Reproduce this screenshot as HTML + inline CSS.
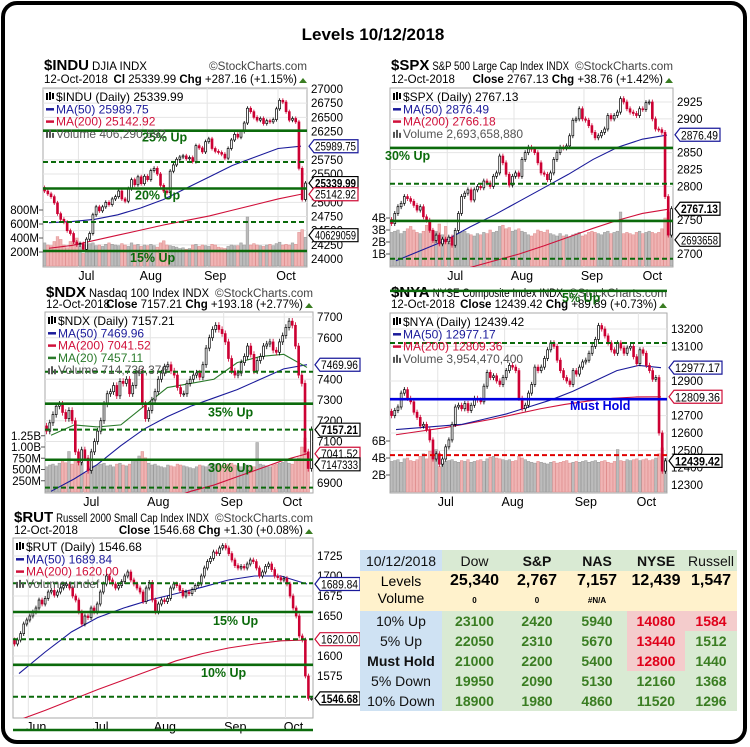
<!DOCTYPE html>
<html><head><meta charset="utf-8">
<style>
html,body{margin:0;padding:0;background:#fff;}
#wrap{position:relative;width:750px;height:747px;overflow:hidden;font-family:"Liberation Sans",sans-serif;}
svg text{font-family:"Liberation Sans",sans-serif;}
#tbl{position:absolute;left:360px;top:550px;border-collapse:collapse;font-family:"Liberation Sans",sans-serif;font-weight:bold;}
#tbl td{padding:0;text-align:center;font-size:14px;height:20px;line-height:20px;}
.lab{background:#cfe2f3;color:#111;font-weight:normal;}
.gr{background:#d9ead3;color:#3a7d22;}
.yl{background:#fff2cc;color:#000;}
.pk{background:#f4cccc;color:#e0001a;}
</style></head>
<body>
<div id="wrap">
<svg id="svg" width="750" height="747" viewBox="0 0 750 747">
<rect x="3" y="3" width="742" height="739" rx="14" fill="#fff" stroke="#000" stroke-width="4"/>
<text x="373" y="40" text-anchor="middle" font-size="17" font-weight="bold">Levels 10/12/2018</text>
</svg>
<table id="tbl">
<tr style="height:21px"><td class="lab" style="width:82px;font-weight:normal">10/12/2018</td><td class="gr" style="width:65px;color:#111;font-weight:normal">Dow</td><td class="gr" style="width:60px;color:#111;font-weight:bold">S&amp;P</td><td class="gr" style="width:60px;color:#111">NAS</td><td class="gr" style="width:58px;color:#111">NYSE</td><td class="gr" style="width:52px;color:#111;font-weight:normal">Russell</td></tr>
<tr><td class="yl" style="font-weight:normal">Levels</td><td class="yl" style="font-size:16px">25,340</td><td class="yl" style="font-size:16px">2,767</td><td class="yl" style="font-size:16px">7,157</td><td class="yl" style="font-size:16px">12,439</td><td class="yl" style="font-size:16px">1,547</td></tr>
<tr style="height:19px"><td class="yl" style="font-weight:normal;line-height:14px;vertical-align:top">Volume</td><td class="yl" style="font-size:8px">0</td><td class="yl" style="font-size:8px">0</td><td class="yl" style="font-size:8px">#N/A</td><td class="yl"></td><td class="yl"></td></tr>
<tr><td class="lab">10% Up</td><td class="gr">23100</td><td class="gr">2420</td><td class="gr">5940</td><td class="pk">14080</td><td class="pk">1584</td></tr>
<tr><td class="lab">5% Up</td><td class="gr">22050</td><td class="gr">2310</td><td class="gr">5670</td><td class="pk">13440</td><td class="gr">1512</td></tr>
<tr><td class="lab" style="font-weight:bold">Must Hold</td><td class="gr">21000</td><td class="gr">2200</td><td class="gr">5400</td><td class="pk">12800</td><td class="gr">1440</td></tr>
<tr><td class="lab">5% Down</td><td class="gr">19950</td><td class="gr">2090</td><td class="gr">5130</td><td class="gr">12160</td><td class="gr">1368</td></tr>
<tr><td class="lab">10% Down</td><td class="gr">18900</td><td class="gr">1980</td><td class="gr">4860</td><td class="gr">11520</td><td class="gr">1296</td></tr>
</table>
</div>
<script>
// ===== DATA =====
const INDU_close=[25200,25150,25100,24990,24800,24700,24650,24500,24450,24300,24250,
24270,24170,24350,24450,24780,24920,24850,24920,25000,24960,25060,25100,25200,25060,25020,25240,25400,25310,25450,
25330,25460,25400,25560,25600,25500,25300,25200,25170,25550,25660,25760,25800,25820,25770,25790,25720,26000,25960,25890,
26070,26120,25950,25900,25880,25850,25780,25950,26100,26200,26150,26250,26400,26660,26600,26500,26450,26480,26390,26440,26420,26460,
26650,26800,26770,26600,26450,26480,26420,25600,25050,25340];
const INDU_vol=[330,300,290,350,420,380,300,260,350,330,400,
280,180,300,320,330,290,300,280,310,330,310,300,290,320,300,280,330,300,310,
280,300,290,310,290,270,330,360,300,290,280,270,250,260,240,250,300,310,280,300,
290,280,310,300,270,260,250,280,300,290,290,330,300,700,300,320,300,290,280,300,310,290,
320,340,300,310,300,330,310,480,520,410];
const INDU_ma50=[24640,24660,24700,24780,24900,25050,25250,25450,25650,25800,25950,25990];
const INDU_ma200=[24190,24240,24330,24420,24510,24600,24680,24760,24860,24960,25060,25143];
const INDU_ticks=[27000,26750,26500,26250,25750,25500,25000,24750,24500,24250,24000];
const INDU_levels=[26264,25712,25244,24653,24141];
const INDU_vticks=[800,600,400,200];
const INDU_vtickLabels=['800M','600M','400M','200M'];
const INDU_months=['Jul','Aug','Sep','Oct'];
const INDU_monthIdx=[11,31,51,73];

const SPX_close=[2745,2760,2770,2775,2785,2782,2778,2772,2765,2770,2755,2750,2735,2720,2728,2715,2722,2718,
2725,2713,2735,2760,2785,2790,2795,2780,2795,2800,2798,2808,2805,2800,2815,2820,2845,2835,2818,2802,2815,
2820,2815,2840,2850,2858,2855,2850,2835,2820,2818,2810,2820,2840,2850,2858,2857,2860,2875,2898,2900,2915,2900,
2898,2890,2880,2872,2875,2880,2885,2905,2900,2905,2910,2930,2925,2915,2910,2908,2905,2915,2914,
2924,2925,2900,2885,2884,2880,2785,2728,2767];
const SPX_vol=[2.8,2.9,3.0,2.7,2.9,3.1,3.3,3.0,2.8,2.7,2.9,3.4,3.8,3.0,2.9,3.5,2.6,3.3,
1.9,2.4,2.6,2.7,2.8,2.9,2.7,2.6,2.5,2.7,2.6,2.8,2.7,3.0,2.8,2.9,3.3,3.4,3.1,3.2,2.9,
3.0,3.1,2.9,2.8,2.6,2.5,2.7,3.0,2.9,2.8,3.0,2.7,2.6,2.5,2.7,2.5,2.6,2.4,2.6,2.7,2.8,2.5,
2.6,2.8,2.9,2.8,2.7,2.6,2.8,2.9,2.7,2.8,2.9,4.5,2.7,2.8,2.7,2.6,2.8,2.9,2.7,
2.8,2.9,2.8,2.7,2.8,3.1,4.0,4.5,2.7];
const SPX_ma50=[2690,2705,2720,2740,2758,2778,2798,2818,2840,2858,2870,2876];
const SPX_ma200=[2655,2662,2670,2680,2690,2700,2712,2725,2738,2750,2760,2766];
const SPX_ticks=[2925,2900,2850,2825,2800,2750,2700];
const SPX_levels=[2857,2804,2749,2693];
const SPX_vticks=[4,3,2,1];
const SPX_vtickLabels=['4B','3B','2B','1B'];
const SPX_months=['Jul','Aug','Sep','Oct'];
const SPX_monthIdx=[18,39,61,80];

const NDX_close=[7150,7190,7230,7270,7280,7240,7210,7250,7200,7050,7000,7060,
7020,6960,7050,7100,7150,7200,7280,7330,7340,7370,7320,7390,7380,7400,7330,7370,7430,7440,7280,7210,7250,
7300,7340,7400,7430,7460,7470,7440,7420,7360,7330,7330,7380,7400,7420,7430,7410,7470,7550,7600,7640,7660,7640,7620,
7580,7500,7440,7420,7430,7480,7510,7560,7520,7440,7490,7510,7560,7570,7580,7540,7530,7580,7610,
7650,7680,7660,7560,7420,7380,7050,6970,7157];
const NDX_vol=[560,600,620,580,640,700,650,900,620,700,660,640,
420,500,560,580,600,620,640,580,600,560,620,640,600,580,620,700,680,800,900,760,640,
600,620,580,560,540,600,580,560,620,600,580,560,540,520,560,600,580,560,600,640,620,600,
580,600,620,640,600,580,560,620,600,580,560,1100,620,600,580,560,600,620,640,
660,680,640,620,700,760,1000,1200,715];
const NDX_ma50=[6860,6920,6990,7080,7160,7220,7270,7310,7350,7400,7450,7470];
const NDX_ma20=[7130,7180,7170,7180,7270,7360,7380,7400,7480,7510,7520,7457];
const NDX_ma200=[6600,6650,6700,6740,6780,6820,6860,6890,6930,6970,7010,7041];
const NDX_ticks=[7700,7600,7400,7300,7200,7100,6900];
const NDX_levels=[7436,7282,7157,7012,6878];
const NDX_vticks=[1250,1000,750,500,250];
const NDX_vtickLabels=['1.25B','1.00B','750M','500M','250M'];
const NDX_months=['Jul','Aug','Sep','Oct'];
const NDX_monthIdx=[12,33,56,75];

const NYA_close=[12700,12730,12750,12830,12850,12800,12780,12720,12690,12640,12650,12620,12560,12450,12480,
12420,12450,12520,12560,12650,12750,12760,12740,12770,12730,12760,12800,12790,12780,12870,12950,12920,12930,12900,12880,12920,
12960,12990,12980,12960,12800,12740,12760,12830,12880,12980,12960,12980,13030,13080,13120,13100,13020,12960,12920,12900,12880,12960,12940,
12980,13010,13020,13060,13100,13140,13220,13200,13160,13120,13080,13060,13120,13090,13060,13090,13100,13040,13000,
13080,13060,12990,12960,12910,12920,12600,12380,12439];
const NYA_vol=[3.6,3.7,3.8,3.5,3.9,4.0,3.7,3.6,3.8,4.2,4.5,3.9,4.8,4.2,5.0,
3.0,3.4,3.6,3.7,3.8,3.6,3.5,3.7,3.6,3.8,3.5,3.6,3.7,3.8,3.6,3.9,4.1,4.2,4.0,3.9,3.8,
3.7,3.8,3.6,3.7,4.2,4.0,3.8,3.6,3.5,3.4,3.6,3.5,3.4,3.3,3.5,3.6,3.4,3.5,3.6,3.7,3.4,3.5,3.6,
3.5,3.6,3.7,3.5,3.6,3.7,3.5,3.6,3.7,3.5,3.4,3.6,5.0,3.7,3.6,3.8,3.7,3.8,3.9,
3.7,3.8,3.9,3.7,3.8,4.0,4.5,5.2,3.95];
const NYA_ma50=[12620,12630,12640,12650,12680,12710,12750,12790,12840,12900,12960,12990,12977];
const NYA_ma200=[12590,12610,12630,12655,12680,12710,12740,12765,12785,12800,12808,12809];
const NYA_ticks=[13200,13100,12900,12700,12600,12500,12400,12300];
const NYA_levels=[13119,12795,12472];
const NYA_topLevel=[13420];
const NYA_vticks=[6,4,2];
const NYA_vtickLabels=['6B','4B','2B'];
const NYA_months=['Jul','Aug','Sep','Oct'];
const NYA_monthIdx=[15,36,59,78];

const RUT_close=[1615,1620,1628,1640,1645,
1650,1655,1660,1670,1665,1672,1680,1682,1676,1680,1685,1688,1690,1685,1675,1670,1655,1640,1650,1648,1660,
1655,1665,1680,1690,1700,1695,1690,1685,1688,1693,1700,1705,1695,1690,1685,1680,1668,1685,1692,1670,1655,
1665,1670,1668,1672,1685,1690,1688,1682,1675,1680,1678,1683,1688,1690,1700,1710,1718,1722,1730,1728,1735,1738,1735,
1728,1720,1713,1710,1712,1710,1715,1720,1718,1710,1700,1705,1712,1715,1708,1700,1698,1695,1697,
1690,1675,1660,1650,1625,1620,1575,1547,1547];
const RUT_ma50=[1578,1605,1630,1648,1660,1670,1678,1686,1695,1700,1700,1690];
const RUT_ma200=[1520,1532,1545,1558,1570,1582,1594,1603,1610,1615,1619,1620];
const RUT_ticks=[1725,1700,1675,1650,1600,1575];
const RUT_levels=[1691,1655,1621,1589,1549];
const RUT_months=['Jun','Jul','Aug','Sep','Oct'];
const RUT_monthIdx=[5,26,47,70,89];

// ===== DRAW =====
const NS='http://www.w3.org/2000/svg';
const svg=document.getElementById('svg');
function mk(tag,attrs,parent){const e=document.createElementNS(NS,tag);for(const k in attrs)e.setAttribute(k,attrs[k]);(parent||svg).appendChild(e);return e;}
function txt(s,x,y,size,attrs,parent){const t=mk('text',Object.assign({x:x,y:y,'font-size':size},attrs||{}),parent);t.textContent=s;return t;}

function drawPanel(p){
  const g=mk('g',{});
  
  
  const N=p.close.length;
  const step=(p.x1-p.x0)/N;
  const X=i=>p.x0+(i+0.5)*step;
  const Y=v=>p.yA+(v-p.vA)*(p.yB-p.yA)/(p.vB-p.vA);
  const clipId='clip-'+p.id;
  const cp=mk('clipPath',{id:clipId},g);
  mk('rect',{x:p.x0,y:p.y0,width:p.x1-p.x0,height:p.y1-p.y0},cp);
  // header
  const h1=txt(p.sym,p.x0+1,p.hy1,15,{'font-weight':'bold'},g);
  
  
  const symW=h1.getComputedTextLength();
  const nm=txt(p.title,p.x0+4+symW,p.hy1,11.5,{},g);
  
  
  const avail=p.x1-104-(p.x0+4+symW);
  if(nm.getComputedTextLength()>avail){nm.setAttribute('textLength',avail);nm.setAttribute('lengthAdjust','spacingAndGlyphs');}
  const sc=txt('©StockCharts.com',p.x1,p.hy1,11.5,{'text-anchor':'end',fill:'#444',textLength:98,lengthAdjust:'spacingAndGlyphs'},g);
  
  
  const dt=txt('12-Oct-2018',p.x0+1,p.hy2,11.5,{},g);
  
  
  const cl=mk('text',{x:p.x1-10,y:p.hy2,'font-size':11.5,'text-anchor':'end'},g);
  cl.innerHTML='<tspan font-weight="bold">'+p.clLabel+'</tspan> '+p.closeTxt+'  <tspan font-weight="bold">Chg</tspan> '+p.chgTxt;
  
  
  mk('path',{d:`M${p.x1-8} ${p.hy2} l4 -5 l4 5z`,fill:'#3a7d22'},g);
  // plot bg
  mk('rect',{x:p.x0,y:p.y0,width:p.x1-p.x0,height:p.y1-p.y0,fill:'#fff',stroke:'#aaa'},g);
  // grid
  p.ticks.forEach(v=>{const y=Y(v);if(y>p.y0&&y<p.y1)mk('line',{x1:p.x0,x2:p.x1,y1:y,y2:y,stroke:'#e4e4e4'},g);});
  p.monthIdx.forEach((mi,k)=>{const x=p.x0+mi*step;mk('line',{x1:x,x2:x,y1:p.y0,y2:p.y1,stroke:'#e4e4e4'},g);
    const ml=txt(p.months[k],x+8,p.y1+13,12.5,{'text-anchor':'middle'},g);
    
    });
  // price tick labels
  p.ticks.forEach(v=>{const tl=txt(String(v),p.x1+4,Y(v)+4,11.5,{},g);
    
    });
  const inner=mk('g',{'clip-path':`url(#${clipId})`},g);
  // volume
  if(p.vol){
    p.vticks.forEach((v,k)=>{const y=p.vBase-v*p.vScale;
      mk('line',{x1:p.x0-4,x2:p.x0,y1:y,y2:y,stroke:'#555'},g);
      const vl=txt(p.vtickLabels[k],p.x0-4,y+4,11.5,{'text-anchor':'end'},g);
      
      });
    for(let i=0;i<Math.min(N,p.vol.length);i++){
      const up=i===0||p.close[i]>=p.close[i-1];
      const hh=p.vol[i]*p.vScale;
      const b=mk('rect',{x:X(i)-step*0.42,y:p.vBase-hh,width:step*0.84,height:hh,fill:up?'#bcbcbc':'#f0b4b4',stroke:up?'#999':'#e08e8e','stroke-width':0.5},inner);
      
      
    }
  }
  // MAs
  p.mas.forEach(m=>{
    const M=m.data.length;
    const pts=m.data.map((v,j)=>`${p.x0+6+j*(p.x1-p.x0-12)/(M-1)},${Y(v)}`).join(' ');
    const l=mk('polyline',{points:pts,fill:'none',stroke:m.color,'stroke-width':1.1},inner);
    
    
  });
  // candles
  for(let i=0;i<N;i++){
    const c=p.close[i],o=i===0?c+p.wick:p.close[i-1];
    const up=c>=o;
    const x=X(i);
    const hi=Math.max(o,c)+p.wick*0.6,lo=Math.min(o,c)-p.wick*0.6;
    const w=mk('line',{x1:x,x2:x,y1:Y(hi),y2:Y(lo),stroke:up?'#000':'#cc0033','stroke-width':0.8},inner);
    
    
    const top=Y(Math.max(o,c)),bot=Y(Math.min(o,c));
    const r=mk('rect',{x:x-step*0.3,y:top,width:step*0.6,height:Math.max(1,bot-top),fill:up?'#fff':'#cc0033',stroke:up?'#000':'#cc0033','stroke-width':0.7},inner);
    
    
  }
  // levels
  p.levels.forEach((v,k)=>{
    const y=Y(v);const st=p.levelStyles[k];
    const a={x1:p.x0,x2:p.x1,y1:y,y2:y,stroke:st.c||'#0b6a0b','stroke-width':st.d?2:2.6};
    if(st.d)a['stroke-dasharray']='5,3';
    const l=mk('line',a,g);
    
    
    if(st.t){const lt=txt(st.t,st.tx,y+st.ty,12.5,{'font-weight':'bold',fill:st.c||'#0b6a0b'},g);
      
      }
  });
  // legend
  const lg=mk('g',{},g);
  
  
  p.legend.forEach((L,k)=>{
    const y=p.y0+9+k*12.3;
    if(k===0){mk('path',{d:`M${p.x0+4} ${y-4}v7M${p.x0+7} ${y-5}v8M${p.x0+10} ${y-4}v6`,stroke:'#000','stroke-width':2},lg);}
    else if(L.c!=='#555'){mk('line',{x1:p.x0+3,x2:p.x0+11,y1:y,y2:y,stroke:L.c,'stroke-width':2.5},lg);}
    else{mk('path',{d:`M${p.x0+4} ${y+4}v-6M${p.x0+7} ${y+4}v-8M${p.x0+10} ${y+4}v-5`,stroke:'#555','stroke-width':2},lg);}
    txt(L.t,p.x0+13,y+4,12,{fill:L.c},lg);
  });
  // tags
  p.tags.forEach(t=>{
    const y=Y(t.v);const x=p.x1+2;const w=t.w||44;
    const tg=mk('g',{},g);
    
    
    mk('path',{d:`M${x} ${y} l5 -6.5 h${w} v13 h-${w} z`,fill:'#fff',stroke:t.c,'stroke-width':1.2},tg);
    txt(t.s,x+6,y+4.5,11.5,{'font-weight':t.b?'bold':'normal',textLength:w-3,lengthAdjust:'spacingAndGlyphs'},tg);
  });
}

drawPanel({id:'indu',sym:'$INDU',title:'DJIA  INDX',clLabel:'Cl',closeTxt:'25339.99',chgTxt:'+287.16 (+1.15%)',
  x0:43,x1:307,y0:88,y1:267,yA:89,vA:27000,yB:259,vB:24000,hy1:70,hy2:83,wick:60,
  close:INDU_close,vol:INDU_vol,vBase:266,vScale:0.07,vticks:INDU_vticks,vtickLabels:INDU_vtickLabels,
  ticks:INDU_ticks,months:INDU_months,monthIdx:INDU_monthIdx,levels:INDU_levels,
  levelStyles:[{t:'25% Up',tx:142,ty:11},{d:1},{t:'20% Up',tx:135,ty:11},{d:1},{t:'15% Up',tx:130,ty:11}],
  mas:[{data:INDU_ma200,color:'#d0103a',name:'ma200-line'},{data:INDU_ma50,color:'#1a1a9a',name:'ma50-line'}],
  legend:[{t:'$INDU (Daily) 25339.99',c:'#000'},{t:'MA(50) 25989.75',c:'#1a1a9a'},{t:'MA(200) 25142.92',c:'#d0103a'},{t:'Volume 406,290,592',c:'#555'}],
  tags:[{v:25990,s:'25989.75',c:'#1a1a9a'},{v:25340,s:'25339.99',c:'#000',b:1},{v:25143,s:'25142.92',c:'#d0103a'},{v:24420,s:'40629059',c:'#000'}]});

drawPanel({id:'spx',sym:'$SPX',title:'S&P 500 Large Cap Index  INDX',clLabel:'Close',closeTxt:'2767.13',chgTxt:'+38.76 (+1.42%)',
  x0:390,x1:673,y0:88,y1:267,yA:102,vA:2925,yB:254,vB:2700,hy1:70,hy2:83,wick:6,
  close:SPX_close,vol:SPX_vol,vBase:266,vScale:12,vticks:SPX_vticks,vtickLabels:SPX_vtickLabels,
  ticks:SPX_ticks,months:SPX_months,monthIdx:SPX_monthIdx,levels:SPX_levels,
  levelStyles:[{t:'30% Up',tx:385,ty:12},{d:1},{},{d:1}],
  mas:[{data:SPX_ma200,color:'#d0103a',name:'ma200-line'},{data:SPX_ma50,color:'#1a1a9a',name:'ma50-line'}],
  legend:[{t:'$SPX (Daily) 2767.13',c:'#000'},{t:'MA(50) 2876.49',c:'#1a1a9a'},{t:'MA(200) 2766.18',c:'#d0103a'},{t:'Volume 2,693,658,880',c:'#555'}],
  tags:[{v:2876.5,s:'2876.49',c:'#1a1a9a',w:40},{v:2767,s:'2767.13',c:'#000',b:1,w:40},{v:2721,s:'2693658',c:'#000',w:40}]});

drawPanel({id:'ndx',sym:'$NDX',title:'Nasdaq 100 Index  INDX',clLabel:'Close',closeTxt:'7157.21',chgTxt:'+193.18 (+2.77%)',
  x0:45,x1:313,y0:312,y1:493,yA:317,vA:7700,yB:483,vB:6900,hy1:297,hy2:308,wick:25,
  close:NDX_close,vol:NDX_vol,vBase:492,vScale:0.045,vticks:NDX_vticks,vtickLabels:NDX_vtickLabels,
  ticks:NDX_ticks,months:NDX_months,monthIdx:NDX_monthIdx,levels:NDX_levels,
  levelStyles:[{d:1},{t:'35% Up',tx:208,ty:13},{d:1},{t:'30% Up',tx:208,ty:12},{d:1}],
  mas:[{data:NDX_ma200,color:'#d0103a',name:'ma200-line'},{data:NDX_ma50,color:'#1a1a9a',name:'ma50-line'},{data:NDX_ma20,color:'#2a7a2a',name:'ma20-line'}],
  legend:[{t:'$NDX (Daily) 7157.21',c:'#000'},{t:'MA(50) 7469.96',c:'#1a1a9a'},{t:'MA(200) 7041.52',c:'#d0103a'},{t:'MA(20) 7457.11',c:'#2a7a2a'},{t:'Volume 714,733,376',c:'#555'}],
  tags:[{v:7470,s:'7469.96',c:'#1a1a9a',w:40},{v:7157,s:'7157.21',c:'#000',b:1,w:40},{v:7041,s:'7041.52',c:'#d0103a',w:40},{v:6990,s:'7147333',c:'#000',w:40}]});

drawPanel({id:'nya',sym:'$NYA',title:'NYSE Composite Index  INDX',clLabel:'Close',closeTxt:'12439.42',chgTxt:'+89.89 (+0.73%)',
  x0:390,x1:667,y0:313,y1:493,yA:329,vA:13200,yB:485,vB:12300,hy1:297,hy2:308,wick:25,
  close:NYA_close,vol:NYA_vol,vBase:492,vScale:8.5,vticks:NYA_vticks,vtickLabels:NYA_vtickLabels,
  ticks:NYA_ticks,months:NYA_months,monthIdx:NYA_monthIdx,levels:NYA_levels.concat(NYA_topLevel),
  levelStyles:[{d:1},{t:'Must Hold',tx:570,ty:11,c:'#0000e0'},{d:1,c:'#e00000'},{t:'5% Up',tx:562,ty:11,c:'#0b6a0b'}],
  mas:[{data:NYA_ma200,color:'#d0103a',name:'ma200-line'},{data:NYA_ma50,color:'#1a1a9a',name:'ma50-line'}],
  legend:[{t:'$NYA (Daily) 12439.42',c:'#000'},{t:'MA(50) 12977.17',c:'#1a1a9a'},{t:'MA(200) 12809.36',c:'#d0103a'},{t:'Volume 3,954,470,400',c:'#555'}],
  tags:[{v:12977,s:'12977.17',c:'#1a1a9a',w:48},{v:12809,s:'12809.36',c:'#d0103a',w:48},{v:12439,s:'12439.42',c:'#000',b:1,w:48}]});

drawPanel({id:'rut',sym:'$RUT',title:'Russell 2000 Small Cap Index  INDX',clLabel:'Close',closeTxt:'1546.68',chgTxt:'+1.30 (+0.08%)',
  x0:13,x1:313,y0:538,y1:718,yA:556,vA:1725,yB:676,vB:1575,hy1:522,hy2:534,wick:5,
  close:RUT_close,vol:null,
  ticks:RUT_ticks,months:RUT_months,monthIdx:RUT_monthIdx,levels:RUT_levels,
  levelStyles:[{d:1},{t:'15% Up',tx:213,ty:13},{d:1},{t:'10% Up',tx:201,ty:12},{d:1}],
  mas:[{data:RUT_ma200,color:'#d0103a',name:'ma200-line'},{data:RUT_ma50,color:'#1a1a9a',name:'ma50-line'}],
  legend:[{t:'$RUT (Daily) 1546.68',c:'#000'},{t:'MA(50) 1689.84',c:'#1a1a9a'},{t:'MA(200) 1620.00',c:'#d0103a'},{t:'Volume undef',c:'#555'}],
  tags:[{v:1690,s:'1689.84',c:'#1a1a9a',w:40},{v:1621,s:'1620.00',c:'#d0103a',w:40},{v:1547,s:'1546.68',c:'#000',b:1,w:40}]});

const bl=mk('line',{x1:13,x2:313,y1:730,y2:730,stroke:'#0b6a0b','stroke-width':2.6});


</script>
</body></html>
